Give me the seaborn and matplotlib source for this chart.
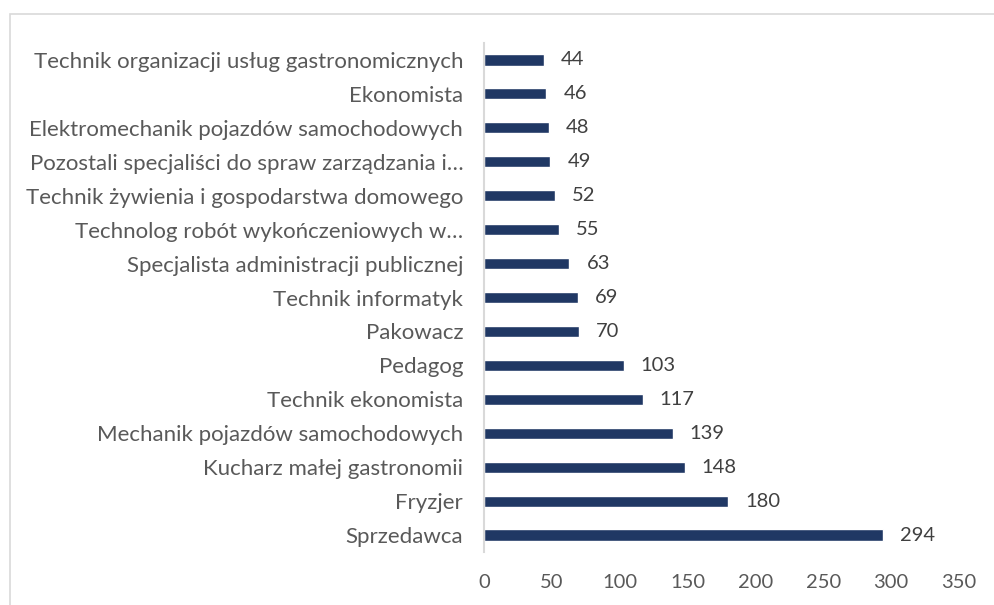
import matplotlib
matplotlib.use("Agg")
import matplotlib.pyplot as plt
import seaborn as sns
import pandas as pd
from matplotlib.patches import Rectangle

# occupations (top to bottom) and counts
occupations = [
    "Technik organizacji usług gastronomicznych",
    "Ekonomista",
    "Elektromechanik pojazdów samochodowych",
    "Pozostali specjaliści do spraw zarządzania i…",
    "Technik żywienia i gospodarstwa domowego",
    "Technolog robót wykończeniowych w…",
    "Specjalista administracji publicznej",
    "Technik informatyk",
    "Pakowacz",
    "Pedagog",
    "Technik ekonomista",
    "Mechanik pojazdów samochodowych",
    "Kucharz małej gastronomii",
    "Fryzjer",
    "Sprzedawca",
]
counts = [44, 46, 48, 49, 52, 55, 63, 69, 70, 103, 117, 139, 148, 180, 294]
x_ticks = [0, 50, 100, 150, 200, 250, 300, 350]

df = pd.DataFrame({"zawod": occupations, "liczba": counts})

sns.set_theme(style="white")
plt.rcParams["font.family"] = ["Lato", "DejaVu Sans"]
text_col = "#595959"
bar_col = "#203864"

fig = plt.figure(figsize=(9.95, 6.05), dpi=100)
ax = fig.add_axes([484 / 995, 53 / 605, 475 / 995, 509 / 605])

sns.barplot(data=df, x="liczba", y="zawod", orient="h", color=bar_col,
            width=0.33, saturation=1, ax=ax)

for i, v in enumerate(counts):
    ax.text(v + 12.5, i, str(v), va="center", ha="left", fontsize=14.5, color="#404040")

ax.set_xlim(0, 350)
ax.set_xticks(x_ticks)
ax.set_xlabel("")
ax.set_ylabel("")
ax.tick_params(axis="both", length=0, colors=text_col)
ax.tick_params(axis="x", pad=16, labelsize=14.5)
ax.tick_params(axis="y", pad=15, labelsize=16)
for s in ["top", "right", "bottom"]:
    ax.spines[s].set_visible(False)
ax.spines["left"].set_color("#d9d9d9")
ax.spines["left"].set_linewidth(1.5)

# outer chart border
fig.patches.append(Rectangle((10 / 995, -0.05), 1.0, 1 - 14 / 605 + 0.05,
                             transform=fig.transFigure, fill=False,
                             edgecolor="#d9d9d9", linewidth=1.2))

fig.savefig("out.png", dpi=100)
